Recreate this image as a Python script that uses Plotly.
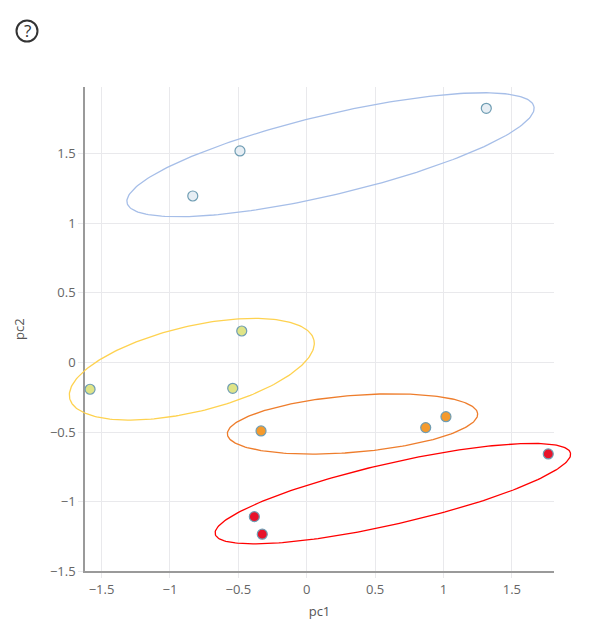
import numpy as np
import plotly.graph_objects as go

# cluster points (pc1, pc2)
groups = ['c1', 'c2', 'c3', 'c4']
pc1 = {
    'c1': [-0.833, -0.488, 1.313],
    'c2': [-1.584, -0.475, -0.541],
    'c3': [-0.334, 0.870, 1.018],
    'c4': [-0.383, -0.325, 1.766],
}
pc2 = {
    'c1': [1.194, 1.517, 1.823],
    'c2': [-0.193, 0.225, -0.186],
    'c3': [-0.492, -0.468, -0.390],
    'c4': [-1.107, -1.233, -0.657],
}

# ellipse per cluster: centre, semi axes, tilt (degrees)
ell_cx = [0.174, -0.840, 0.335, 0.630]
ell_cy = [1.490, -0.049, -0.442, -0.942]
ell_a = [1.527, 0.917, 0.918, 1.331]
ell_b = [0.287, 0.307, 0.204, 0.219]
ell_deg = [13.1, 13.2, 4.6, 12.6]

tick_vals = [-1.5, -1, -0.5, 0, 0.5, 1, 1.5]
tick_text = ['\u22121.5', '\u22121', '\u22120.5', '0', '0.5', '1', '1.5']
x_range = [-1.621, 1.808]
y_range = [-1.5, 1.976]

marker_fill = ['#e7eef4', '#dfe487', '#f59a2c', '#e8132a']
ellipse_col = ['#a6bee8', '#fed250', '#ee7d2c', '#ff0000']
outline = '#6f9db3'

# page layout (px). The visible axes sit inside a larger plotting area so that
# the ellipses can spill over the axis box like in the original.
W, H = 599, 622
ml, mr, mt, mb = 40, 20, 40, 30
box_l, box_r, box_t, box_b = 77, 546, 79, 563.4
pw, ph = W - ml - mr, H - mt - mb
xdom = [(box_l - ml) / pw, (box_r - ml) / pw]
ydom = [(H - mb - box_b) / ph, (H - mb - box_t) / ph]

def widen(rng, dom):
    span = (rng[1] - rng[0]) / (dom[1] - dom[0])
    lo = rng[0] - dom[0] * span
    return [lo, lo + span]

fig = go.Figure()

# keeps the visible pc1/pc2 axes in the figure
fig.add_trace(go.Scatter(x=[None], y=[None], xaxis='x', yaxis='y',
                         mode='markers', hoverinfo='skip', showlegend=False))

t = np.linspace(0, 2 * np.pi, 241)
for i, g in enumerate(groups):
    th = np.radians(ell_deg[i])
    ex = ell_cx[i] + ell_a[i] * np.cos(t) * np.cos(th) - ell_b[i] * np.sin(t) * np.sin(th)
    ey = ell_cy[i] + ell_a[i] * np.cos(t) * np.sin(th) + ell_b[i] * np.sin(t) * np.cos(th)
    fig.add_trace(go.Scatter(
        x=ex, y=ey, mode='lines', xaxis='x2', yaxis='y2',
        line=dict(color=ellipse_col[i], width=1.3),
        hoverinfo='skip', showlegend=False
    ))

for i, g in enumerate(groups):
    fig.add_trace(go.Scatter(
        x=pc1[g], y=pc2[g], mode='markers', name=g, xaxis='x2', yaxis='y2',
        marker=dict(size=10, color=marker_fill[i], line=dict(color=outline, width=1.2)),
        showlegend=False
    ))

grid = '#e9e9ec'
axis_font = dict(family='Open Sans', size=13, color='#666666')
title_font = dict(family='Open Sans', size=13, color='#555555')

fig.update_layout(
    width=W,
    height=H,
    margin=dict(l=ml, r=mr, t=mt, b=mb),
    paper_bgcolor='white',
    plot_bgcolor='rgba(0,0,0,0)',
    font=dict(family='Open Sans', color='#555555'),
    xaxis=dict(
        domain=xdom, anchor='y', range=x_range,
        tickvals=tick_vals, ticktext=tick_text,
        showgrid=True, gridcolor=grid, gridwidth=1,
        zeroline=False,
        showline=True, linecolor='#9a9a9a', linewidth=1.5,
        ticks='outside', ticklen=5, tickcolor=grid,
        tickfont=axis_font,
        title=dict(text='pc1', font=title_font, standoff=10),
    ),
    yaxis=dict(
        domain=ydom, anchor='x', range=y_range,
        tickvals=tick_vals, ticktext=tick_text,
        showgrid=True, gridcolor=grid, gridwidth=1,
        zeroline=False,
        showline=True, linecolor='#9a9a9a', linewidth=1.5,
        ticks='outside', ticklen=5, tickcolor=grid,
        tickfont=axis_font,
        title=dict(text='pc2', font=title_font, standoff=22),
    ),
    xaxis2=dict(domain=[0, 1], anchor='y2', range=widen(x_range, xdom), visible=False),
    yaxis2=dict(domain=[0, 1], anchor='x2', range=widen(y_range, ydom), visible=False),
)

# help icon in the top-left corner
icon_x = (19 - ml) / pw
icon_y = (H - mb - 23) / ph
fig.add_shape(
    type='circle', xref='paper', yref='paper',
    xsizemode='pixel', ysizemode='pixel',
    xanchor=icon_x, yanchor=icon_y,
    x0=-10.5, x1=10.5, y0=-10.5, y1=10.5,
    line=dict(color='#333333', width=2)
)
fig.add_annotation(
    x=icon_x, y=icon_y, xref='paper', yref='paper',
    text='?', showarrow=False, xanchor='center', yanchor='middle',
    font=dict(family='Open Sans', size=17, color='#333333')
)

fig.write_html("out.html")
